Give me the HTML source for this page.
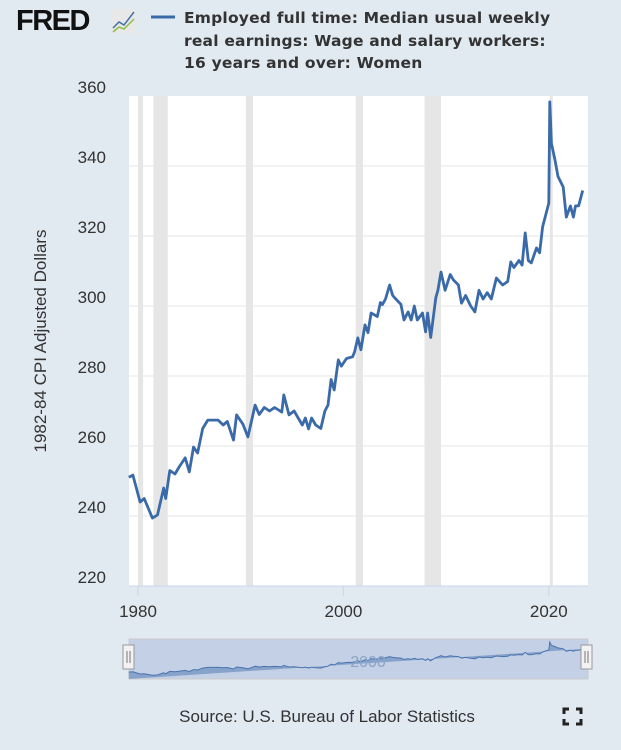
<!DOCTYPE html>
<html><head><meta charset="utf-8"><style>
body{margin:0;width:621px;height:750px;background:#e1e9f1;overflow:hidden;font-family:"Liberation Sans",sans-serif;}
svg{position:absolute;left:0;top:0}
</style></head><body>
<svg width="621" height="750" id="chart">
<rect x="0" y="0" width="621" height="750" fill="#e1e9f1"/>
<g>
<text x="16" y="30" font-family="Liberation Sans, sans-serif" font-weight="bold" font-size="29" fill="#111" letter-spacing="-1.5">FRED</text>
<rect x="112" y="9" width="24" height="24" fill="#e8e8e8"/>
<polyline points="113,28 119,22 124,25 134,12" fill="none" stroke="#4572a7" stroke-width="1.5"/>
<polyline points="113,32 119,27 124,29 134,19" fill="none" stroke="#8bbf4a" stroke-width="1.5"/>
</g>
<g>
<line x1="151" y1="17" x2="175" y2="17" stroke="#3b6aa8" stroke-width="3"/>
<text font-family="DejaVu Sans, sans-serif" font-size="15.5" font-weight="bold" fill="#333" letter-spacing="0.2">
<tspan x="184" y="23">Employed full time: Median usual weekly</tspan>
<tspan x="184" y="46">real earnings: Wage and salary workers:</tspan>
<tspan x="184" y="68">16 years and over: Women</tspan></text>
</g>
<rect x="129" y="96" width="459" height="490" fill="#fff"/>
<g id="rec"></g><g id="grid"></g><g id="yt"></g><g id="xt"></g>
<text transform="translate(46,341) rotate(-90)" text-anchor="middle" font-size="17" fill="#333" font-family="Liberation Sans, sans-serif">1982-84 CPI Adjusted Dollars</text>
<path id="line" fill="none" stroke="#3b6aa8" stroke-width="2.8" stroke-linejoin="round"/>
<g>
<rect x="129" y="639" width="459" height="40" fill="#c3d0e5" stroke="#ccc"/>
<path id="navarea" fill="#87a2cb" stroke="none"/>
<path id="navline" fill="none" stroke="#4a74ad" stroke-width="1"/>
<text x="368" y="667" text-anchor="middle" font-size="16" fill="#8da4c6">2000</text>
<rect x="123" y="645" width="11" height="24" fill="#f2f2f2" stroke="#999"/>
<line x1="127" y1="651" x2="127" y2="663" stroke="#777"/><line x1="130" y1="651" x2="130" y2="663" stroke="#777"/>
<rect x="581" y="645" width="11" height="24" fill="#f2f2f2" stroke="#999"/>
<line x1="585" y1="651" x2="585" y2="663" stroke="#777"/><line x1="588" y1="651" x2="588" y2="663" stroke="#777"/>
</g>
<text x="327" y="722" text-anchor="middle" font-size="17" fill="#333">Source: U.S. Bureau of Labor Statistics</text>
<g stroke="#222" stroke-width="3" fill="none">
<polyline points="564,714 564,709 569,709"/><polyline points="576,709 581,709 581,714"/>
<polyline points="564,719 564,724 569,724"/><polyline points="576,724 581,724 581,719"/>
</g>
</svg>
<script>
const years=[1979.1,1979.5,1980.2,1980.6,1981.4,1981.9,1982.5,1982.7,1983.1,1983.6,1984.0,1984.6,1985.0,1985.4,1985.8,1986.3,1986.8,1987.8,1988.3,1988.7,1989.3,1989.6,1990.2,1990.7,1991.4,1991.8,1992.3,1992.8,1993.3,1994.0,1994.2,1994.7,1995.2,1996.0,1996.3,1996.6,1996.9,1997.3,1997.8,1998.2,1998.5,1998.8,1999.1,1999.5,1999.8,2000.3,2000.9,2001.1,2001.4,2001.7,2002.1,2002.4,2002.7,2003.3,2003.6,2003.8,2004.1,2004.5,2004.8,2005.1,2005.6,2005.9,2006.3,2006.6,2006.9,2007.2,2007.7,2008.0,2008.2,2008.5,2009.0,2009.2,2009.5,2009.9,2010.4,2010.7,2011.2,2011.5,2011.9,2012.4,2012.8,2013.2,2013.6,2014.0,2014.4,2014.9,2015.5,2016.0,2016.3,2016.6,2017.1,2017.4,2017.7,2018.0,2018.3,2018.8,2019.1,2019.4,2020.0,2020.1,2020.25,2020.6,2020.9,2021.4,2021.7,2022.1,2022.4,2022.6,2022.9,2023.3,2023.6];
const values=[251.1,251.7,244,245,239.4,240.3,248,245,253,252,254,256.6,252.6,259.7,258,265,267.4,267.4,266,267,261.7,268.9,266.3,262.6,271.7,269,271,270,271,269.7,274.6,268.9,270,266,268,264.9,268,266,265,270,271.7,279,276,284.6,282.8,285,285.5,287,290.9,287.5,294.6,292.4,298,297,301,300.4,302,306,303,302,300.5,296,298.3,296,300,296,298,292.6,298,291,302.3,304.5,309.7,304.5,309,307.5,306,300.8,303,300,298.3,304.5,302,303.8,302,308,306,307,312.6,311,313,311.7,320.9,313,312.3,316.6,315.2,322.6,329.4,358.3,346.5,341.7,337,334,325.4,328.6,325.4,328.6,328.6,333];
const yTicks=[220,240,260,280,300,320,340,360];
const xTicks=[1980,2000,2020];
const recessions=[[1980.0,1980.5],[1981.5,1982.9],[1990.5,1991.2],[2001.2,2001.9],[2007.9,2009.5],[2020.1,2020.35]];
const NS="http://www.w3.org/2000/svg";
const X=t=>138+(t-1980)*10.27;
const Y=v=>306-(v-300)*3.5;
const NY=v=>672-(v-251)*0.28;
function mk(tag,attrs,parent){const e=document.createElementNS(NS,tag);for(const k in attrs)e.setAttribute(k,attrs[k]);document.getElementById(parent).appendChild(e);return e;}
recessions.forEach(r=>{const e=mk('rect',{x:X(r[0]),y:96,width:Math.max(X(r[1])-X(r[0]),3),height:490,fill:'#e6e6e6'},'rec');

});
yTicks.forEach(v=>{if(v>220&&v<360){const g=mk('line',{x1:129,x2:588,y1:Y(v),y2:Y(v),stroke:'#e6e6e6','stroke-width':1},'grid');

}
const t=mk('text',{x:106,y:Y(v)-3,'text-anchor':'end','font-size':17,fill:'#333'},'yt');t.textContent=v;

});
mk('line',{x1:129,x2:588,y1:586,y2:586,stroke:'#ccd6eb'},'xt');
xTicks.forEach(yr=>{const l=mk('line',{x1:X(yr),x2:X(yr),y1:586,y2:596,stroke:'#ccd6eb'},'xt');


const t=mk('text',{x:X(yr),y:617,'text-anchor':'middle','font-size':17,fill:'#333'},'xt');t.textContent=yr;

});
document.getElementById('line').setAttribute('d',years.map((t,i)=>(i?'L':'M')+X(t).toFixed(1)+','+Y(values[i]).toFixed(1)).join(''));
const pts=years.map((t,i)=>X(t).toFixed(1)+','+NY(values[i]).toFixed(1));
document.getElementById('navline').setAttribute('d','M'+pts.join('L'));
document.getElementById('navarea').setAttribute('d','M'+X(years[0]).toFixed(1)+',679L'+pts.join('L')+'L'+X(years[years.length-1]).toFixed(1)+',679Z');
</script>
</body></html>
